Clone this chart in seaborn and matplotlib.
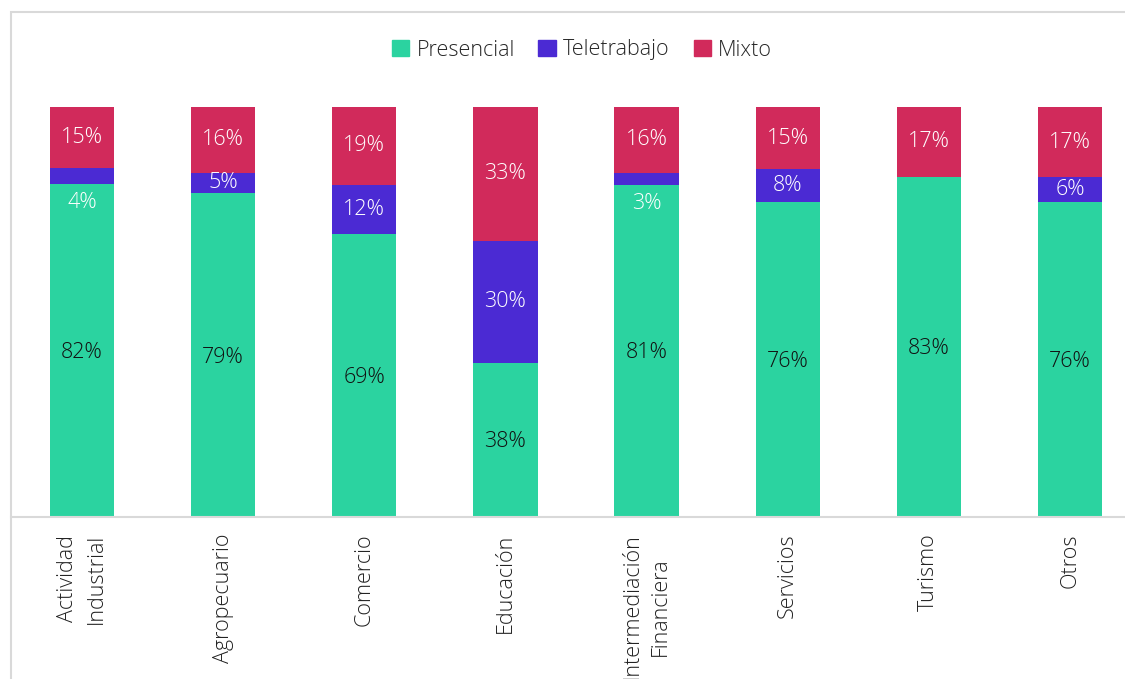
import pandas as pd
import numpy as np
import matplotlib
matplotlib.use("Agg")
import matplotlib.pyplot as plt
from matplotlib.patches import Rectangle, Patch
import seaborn as sns

# datos (%)
sectores = ["Actividad\nIndustrial", "Agropecuario", "Comercio", "Educación",
            "Intermediación\nFinanciera", "Servicios", "Turismo", "Otros"]
presencial = [82, 79, 69, 38, 81, 76, 83, 76]
teletrabajo = [4, 5, 12, 30, 3, 8, 0, 6]
mixto = [15, 16, 19, 33, 16, 15, 17, 17]

c_pres = "#2BD3A0"
c_tele = "#4B2AD3"
c_mixto = "#D12A5B"

sns.set_style("white")
plt.rcParams['font.family'] = ['Open Sans', 'DejaVu Sans']

df = pd.DataFrame({"Sector": sectores, "Presencial": presencial,
                   "Teletrabajo": teletrabajo, "Mixto": mixto})
total = df[["Presencial", "Teletrabajo", "Mixto"]].sum(axis=1)
# barras al 100%
df["p"] = df["Presencial"] / total * 100
df["t"] = df["Teletrabajo"] / total * 100
df["m"] = df["Mixto"] / total * 100
df["cum_pt"] = df["p"] + df["t"]
df["cum_all"] = df["cum_pt"] + df["m"]

fig = plt.figure(figsize=(11.25, 6.79), dpi=100)
ax = fig.add_axes([11/1125, 1 - 517/679, 1 - 11/1125, (517 - 107)/679])

w = 0.455
sns.barplot(data=df, x="Sector", y="cum_all", color=c_mixto, width=w, ax=ax,
            saturation=1, linewidth=0)
sns.barplot(data=df, x="Sector", y="cum_pt", color=c_tele, width=w, ax=ax,
            saturation=1, linewidth=0)
sns.barplot(data=df, x="Sector", y="p", color=c_pres, width=w, ax=ax,
            saturation=1, linewidth=0)

# etiquetas de datos
fs = 15.5
fw = "light"
for i, r in df.iterrows():
    ax.text(i, r["p"] / 2 - 0.5, f"{r['Presencial']}%", ha="center", va="center",
            fontsize=fs, color="#111111", fontweight=fw)
    if r["Teletrabajo"] > 0:
        if r["Teletrabajo"] < 5:
            yt = r["p"] - 4.5
        else:
            yt = r["p"] + r["t"] / 2
        ax.text(i, yt, f"{r['Teletrabajo']}%", ha="center", va="center",
                fontsize=fs, color="white", fontweight=fw)
    ax.text(i, r["cum_pt"] + r["m"] / 2, f"{r['Mixto']}%", ha="center",
            va="center", fontsize=fs, color="white", fontweight=fw)

ax.set_ylim(0, 100)
ax.set_xlim(-0.503, 7.39)
ax.set_yticks([])
ax.set_xlabel("")
ax.set_ylabel("")
ax.set_xticks(range(len(sectores)))
ax.set_xticklabels(sectores, rotation=90, fontsize=15.5, color="#222222",
                   ha="center", va="top", multialignment="center",
                   fontweight=fw, linespacing=1.45)
ax.tick_params(axis="x", length=0, pad=12)
for s in ["top", "right", "left"]:
    ax.spines[s].set_visible(False)
ax.spines["bottom"].set_color("#D9D9D9")
ax.spines["bottom"].set_linewidth(1.5)

handles = [Patch(color=c_pres, label="Presencial"),
           Patch(color=c_tele, label="Teletrabajo"),
           Patch(color=c_mixto, label="Mixto")]
fig.legend(handles=handles, loc="center", bbox_to_anchor=(582/1125, 1 - 50/679),
           ncol=3, frameon=False, handlelength=0.8, prop={"size": 15.5, "weight": fw},
           handleheight=0.8, handletextpad=0.35, columnspacing=1.1)

# marco del area del grafico
fig.add_artist(Rectangle((11/1125, -0.05), 1.0, 1 - 12/679 + 0.05,
                         transform=fig.transFigure, fill=False,
                         edgecolor="#D9D9D9", linewidth=1.5))

fig.savefig("out.png", dpi=100)
